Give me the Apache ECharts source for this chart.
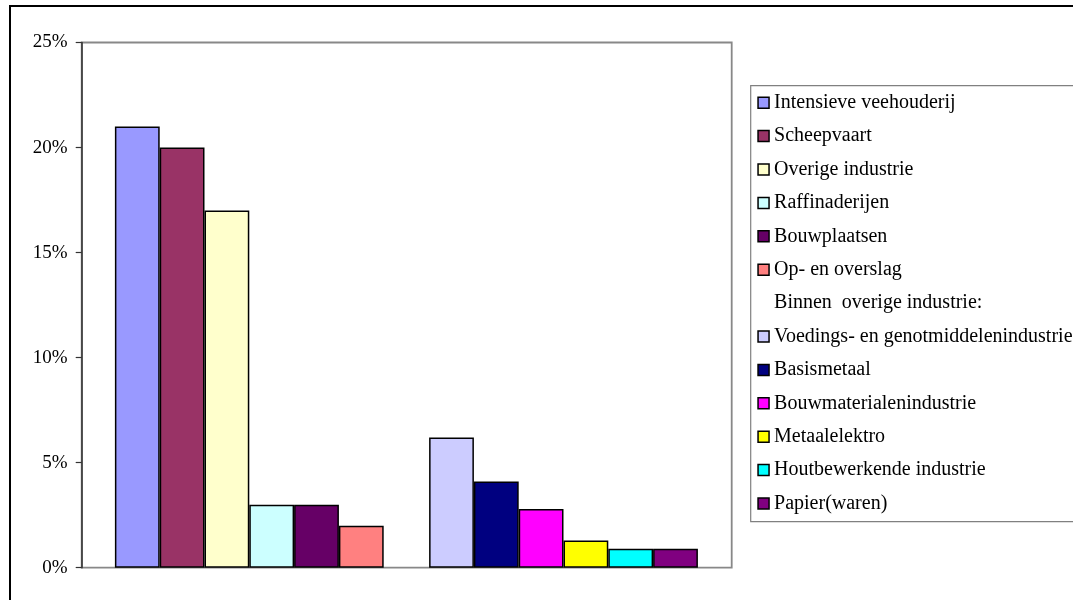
<!DOCTYPE html>
<html>
<head>
<meta charset="utf-8">
<title>Emissiebronnen</title>
<script src="https://cdn.jsdelivr.net/npm/echarts@6/dist/echarts.min.js"></script>
<style>
  html, body { margin: 0; padding: 0; background: #fff; }
  #chart { width: 1073px; height: 600px; }
</style>
</head>
<body>
<div id="chart"></div>
<script>
// Two groups on the x axis: all sectors, and the breakdown within "overige industrie"
const categories = ['Sectoren', 'Overige industrie'];

const sectorNames = [
  'Intensieve veehouderij',
  'Scheepvaart',
  'Overige industrie',
  'Raffinaderijen',
  'Bouwplaatsen',
  'Op- en overslag'
];
const sectorValues = [21, 20, 17, 3, 3, 2];
const sectorColors = ['#9999FF', '#993366', '#FFFFCC', '#CCFFFF', '#660066', '#FF8080'];

const subheading = 'Binnen  overige industrie:';

const industryNames = [
  'Voedings- en genotmiddelenindustrie',
  'Basismetaal',
  'Bouwmaterialenindustrie',
  'Metaalelektro',
  'Houtbewerkende industrie',
  'Papier(waren)'
];
const industryValues = [6.2, 4.1, 2.8, 1.3, 0.9, 0.9];
const industryColors = ['#CCCCFF', '#000080', '#FF00FF', '#FFFF00', '#00FFFF', '#800080'];

const yTicks = { min: 0, max: 25, interval: 5 };

const FONT = '"Liberation Serif", "Times New Roman", serif';

// Plot frame, bar layout and legend box
const frame = { left: 81.7, top: 42.5, right: 731.7, bottom: 567.7 };
const barGrid = { left: 92.2, right: 720.6 };
const legendBox = { left: 750.7, top: 85.7, bottom: 521.7 };

const series = [];
sectorNames.forEach((name, i) => {
  series.push({
    name: name,
    type: 'bar',
    stack: 'slot' + i,
    barWidth: 44.8,
    barGap: '0%',
    itemStyle: { color: sectorColors[i], borderColor: '#000', borderWidth: 1.5 },
    data: [sectorValues[i], '-'],
    z: 3
  });
});
// heading entry in the legend, carries no data
series.push({ name: subheading, type: 'line', data: [], symbol: 'none' });
industryNames.forEach((name, i) => {
  series.push({
    name: name,
    type: 'bar',
    stack: 'slot' + i,
    barWidth: 44.8,
    barGap: '0%',
    itemStyle: { color: industryColors[i], borderColor: '#000', borderWidth: 1.5 },
    data: ['-', industryValues[i]],
    z: 3
  });
});

const legendData = sectorNames.map(n => ({ name: n }))
  .concat([{ name: subheading, itemStyle: { opacity: 0 } }])
  .concat(industryNames.map(n => ({ name: n })));

const chart = echarts.init(document.getElementById('chart'), null, { renderer: 'canvas' });

chart.setOption({
  backgroundColor: '#fff',
  animation: false,
  textStyle: { fontFamily: FONT },
  grid: {
    left: barGrid.left,
    right: 1073 - barGrid.right,
    top: frame.top,
    bottom: 600 - frame.bottom,
    containLabel: false
  },
  xAxis: {
    type: 'category',
    data: categories,
    axisLine: { show: false },
    axisTick: { show: false },
    axisLabel: { show: false },
    splitLine: { show: false }
  },
  yAxis: {
    type: 'value',
    min: yTicks.min,
    max: yTicks.max,
    interval: yTicks.interval,
    offset: barGrid.left - frame.left,
    axisLine: { show: true, lineStyle: { color: '#333', width: 1.5 } },
    axisTick: { show: true, length: 6, lineStyle: { color: '#333', width: 1.2 } },
    axisLabel: {
      formatter: '{value}%',
      color: '#000',
      fontFamily: FONT,
      fontSize: 19,
      margin: 14
    },
    splitLine: { show: false }
  },
  legend: {
    orient: 'vertical',
    left: legendBox.left + 6.6,
    top: legendBox.top + 7,
    padding: 0,
    itemWidth: 11,
    itemHeight: 11,
    itemGap: 13.4,
    icon: 'rect',
    itemStyle: { borderColor: '#000', borderWidth: 1.5 },
    textStyle: { fontFamily: FONT, fontSize: 20, color: '#000', lineHeight: 20 },
    data: legendData
  },
  graphic: [
    {
      type: 'rect',
      z: -1,
      shape: { x: 10, y: 6, width: 1100, height: 700 },
      style: { fill: 'none', stroke: '#000', lineWidth: 2 }
    },
    {
      type: 'rect',
      z: 0,
      shape: {
        x: frame.left,
        y: frame.top,
        width: frame.right - frame.left,
        height: frame.bottom - frame.top
      },
      style: { fill: 'none', stroke: '#888', lineWidth: 1.8 }
    },
    {
      type: 'rect',
      z: 0,
      shape: {
        x: legendBox.left,
        y: legendBox.top,
        width: 400,
        height: legendBox.bottom - legendBox.top
      },
      style: { fill: 'none', stroke: '#808080', lineWidth: 1.2 }
    }
  ],
  series: series
});
</script>
</body>
</html>
